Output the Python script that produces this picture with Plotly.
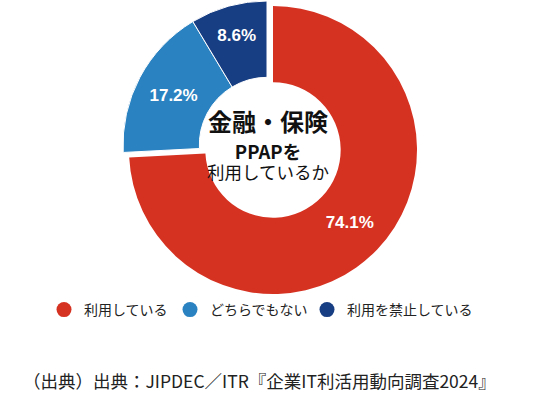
import plotly.graph_objects as go

labels = ["利用している", "どちらでもない", "利用を禁止している"]
values = [74.1, 17.2, 8.6]
colors = ["#D63222", "#2A82C1", "#173D82"]
center_lines = ["金融・保険", "PPAPを", "利用しているか"]
source_text = "（出典）出典：JIPDEC／ITR『企業IT利活用動向調査2024』"

W, H = 536, 399
R = 144
red_c = (273, 150)
grp_c = (267, 145)


def dom(c):
    cx, cy = c
    return dict(x=[(cx - R) / W, (cx + R) / W],
                y=[max(0, 1 - (cy + R) / H), min(1, 1 - (cy - R) / H)])


texts = [f"{v}%" for v in values]
fig = go.Figure()
# red slice
fig.add_trace(go.Pie(
    labels=labels, values=values, sort=False, direction="clockwise", rotation=0,
    hole=0.47, domain=dom(red_c),
    marker=dict(colors=[colors[0], "rgba(0,0,0,0)", "rgba(0,0,0,0)"],
                line=dict(width=0)),
    text=[texts[0], "", ""], textinfo="text", textposition="inside",
    insidetextorientation="horizontal",
    textfont=dict(family="Liberation Sans, Arial", size=17, color="white", weight="bold"),
    showlegend=False, hoverinfo="skip",
))
# blue + navy slices (exploded group)
fig.add_trace(go.Pie(
    labels=labels, values=values, sort=False, direction="clockwise", rotation=0,
    hole=0.47, domain=dom(grp_c),
    marker=dict(colors=["rgba(0,0,0,0)", colors[1], colors[2]],
                line=dict(width=[0, 1, 1], color="white")),
    text=["", texts[1], texts[2]], textinfo="text", textposition="inside",
    insidetextorientation="horizontal",
    textfont=dict(family="Liberation Sans, Arial", size=17, color="white", weight="bold"),
    showlegend=False, hoverinfo="skip",
))
# legend entries, one legend per item so each can be placed
legend_names = ["legend", "legend2", "legend3"]
for lab, col, lg in zip(labels, colors, legend_names):
    fig.add_trace(go.Scatter(x=[None], y=[None], mode="markers", name=lab, legend=lg,
                             marker=dict(color=col, size=15, symbol="circle")))

ann = [
    dict(text=f"<b>{center_lines[0]}</b>", x=268 / W, y=1 - 121 / H,
         font=dict(size=24, family="Noto Sans CJK JP", color="#111")),
    dict(text=(f"<span style='font-size:18.5px'><b>{center_lines[1]}</b></span><br>"
               f"<span style='font-size:17.5px'>{center_lines[2]}</span>"),
         x=268 / W, y=1 - 161 / H,
         font=dict(size=15, family="Noto Sans CJK JP", color="#111")),
    dict(text=source_text, x=259 / W, y=1 - 380 / H,
         font=dict(size=17.5, family="Noto Sans CJK JP", color="#222")),
]
for a in ann:
    a.update(xref="paper", yref="paper", showarrow=False, xanchor="center", yanchor="middle")

leg_common = dict(orientation="h", xanchor="left", yanchor="middle", y=1 - 310 / H,
                  font=dict(size=14, family="Noto Sans CJK JP", color="#222"),
                  itemsizing="trace", bgcolor="rgba(0,0,0,0)")
marker_x = [62, 188, 325]
fig.update_layout(
    width=W, height=H, margin=dict(l=0, r=0, t=0, b=0),
    paper_bgcolor="white", plot_bgcolor="white",
    xaxis=dict(visible=False), yaxis=dict(visible=False),
    legend=dict(x=(marker_x[0] - 18) / W, **leg_common),
    legend2=dict(x=(marker_x[1] - 18) / W, **leg_common),
    legend3=dict(x=(marker_x[2] - 18) / W, **leg_common),
    annotations=ann,
)
fig.write_html("out.html", config={"displayModeBar": False},
               post_script="document.body.style.margin='0';document.body.style.overflow='hidden';")
